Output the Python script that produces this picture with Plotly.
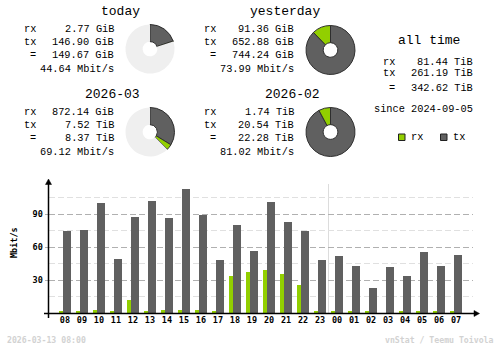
import plotly.graph_objects as go

# ---- traffic data -------------------------------------------------------
hours = ["08", "09", "10", "11", "12", "13", "14", "15", "16", "17", "18", "19",
         "20", "21", "22", "23", "00", "01", "02", "03", "04", "05", "06", "07"]
rx_rate = [1.8, 1.0, 2.7, 1.0, 11.8, 1.8, 2.7, 2.7, 2.7, 1.0, 33.6, 37.3,
           39.0, 35.5, 25.5, 1.0, 1.8, 1.0, 1.0, 0.0, 1.0, 1.0, 1.0, 1.0]
tx_rate = [74.5, 75.5, 100.0, 49.0, 87.3, 101.8, 86.4, 112.7, 89.0, 48.2, 80.0, 56.4,
           101.0, 82.7, 74.5, 48.2, 51.8, 42.7, 22.7, 41.8, 33.6, 55.5, 42.7, 52.7]

# summary blocks: rx, tx (GiB for days, TiB for months)
today_vals = [2.77, 146.90]
yesterday_vals = [91.36, 652.88]
month_cur_vals = [872.14 / 1024, 7.52]
month_prev_vals = [1.74, 20.54]

today_text = ["2.77 GiB", "146.90 GiB", "149.67 GiB", "44.64 Mbit/s"]
yesterday_text = ["91.36 GiB", "652.88 GiB", "744.24 GiB", "73.99 Mbit/s"]
month_cur_text = ["872.14 GiB", "7.52 TiB", "8.37 TiB", "69.12 Mbit/s"]
month_prev_text = ["1.74 TiB", "20.54 TiB", "22.28 TiB", "81.02 Mbit/s"]
alltime_text = ["81.44 TiB", "261.19 TiB", "342.62 TiB"]
since_text = "since 2024-09-05"
stamp_text = "2026-03-13 08:00"
credit_text = "vnStat / Teemu Toivola"

RX = "#92CF00"
TX = "#606060"
EDGE = "#2E2E2E"
PIE_BG = "#EFEFEF"
W, H = 500, 348
MONO = "DejaVu Sans Mono"
BODY = "Liberation Mono"


def px(x):
    return x / W


def py(y):
    return 1 - y / H


fig = go.Figure()

# ---- hourly bars --------------------------------------------------------
idx = list(range(len(hours)))
fig.add_trace(go.Bar(x=idx, y=rx_rate, marker=dict(color=RX, line=dict(width=0)),
                     width=0.29, offset=-0.41, name="rx", showlegend=False))
fig.add_trace(go.Bar(x=idx, y=tx_rate, marker=dict(color=TX, line=dict(width=0)),
                     width=0.47, offset=-0.12, name="tx", showlegend=False))


# ---- donuts -------------------------------------------------------------
def donut(vals, cx, cy, ref_total=None, r=24.5):
    rx, tx = vals
    values = [tx, rx]
    colors = [TX, RX]
    lcol = [EDGE, EDGE]
    lw = [1, 1]
    if ref_total is not None:
        values.append(max(ref_total - (rx + tx), 0))
        colors.append(PIE_BG)
        lcol.append(PIE_BG)
        lw.append(0)
    fig.add_trace(go.Pie(
        values=values, sort=False, direction="clockwise", rotation=0,
        hole=0.3, textinfo="none", hoverinfo="skip", showlegend=False,
        marker=dict(colors=colors, line=dict(color=lcol, width=lw)),
        domain=dict(x=[px(cx - r), px(cx + r)], y=[py(cy + r), py(cy - r)]),
    ))


donut(today_vals, 150, 49, ref_total=sum(yesterday_vals))
donut(yesterday_vals, 330.5, 50)
donut(month_cur_vals, 150, 132, ref_total=sum(month_prev_vals))
donut(month_prev_vals, 330.5, 132)

# ---- text blocks --------------------------------------------------------
ann = []


def text(x, y, s, size=10.3, anchor="left", color="black", bold=False, angle=0,
         family=BODY):
    if bold:
        s = "<b>" + s + "</b>"
    ann.append(dict(x=px(x), y=py(y), xref="paper", yref="paper", text=s,
                    showarrow=False, xanchor=anchor, yanchor="middle",
                    textangle=angle,
                    font=dict(family=family, size=size, color=color)))


def block(title, vals, x0, y0):
    text(x0 + 142, y0 + 12, title, size=13, anchor="right")
    rows = [y0 + 29.5, y0 + 42, y0 + 55]
    for lab, y, v in zip(["rx", "tx", "="], rows, vals[:3]):
        text(x0 + 37.5, y, lab, anchor="right")
        text(x0 + 115.5, y, v, anchor="right")
    text(x0 + 115.5, y0 + 69.5, vals[3], anchor="right")


block("today", today_text, 0, 0)
block("yesterday", yesterday_text, 180, 0)
block("2026-03", month_cur_text, 0, 82.5)
block("2026-02", month_prev_text, 180, 82.5)

text(429, 40.5, "all time", size=13, anchor="center")
for lab, y, v in zip(["rx", "tx", "="], [62.3, 73.3, 88.3], alltime_text):
    text(397, y, lab, anchor="right")
    text(474.5, y, v, anchor="right")
text(474.5, 109, since_text, anchor="right")

# legend
text(408.5, 137, "rx")
text(450.5, 137, "tx")

# axis title and footer
text(14, 243, "Mbit/s", size=8.5, anchor="center", bold=True, angle=-90, family=MONO)
text(5, 340, stamp_text, size=8.2, color="#D2D2D2", bold=True, family=MONO)
text(496, 340, credit_text, size=8.2, anchor="right", color="#D2D2D2", bold=True,
     family=MONO)

shapes = []
# legend squares
for x0, c in [(398.5, RX), (440.5, TX)]:
    shapes.append(dict(type="rect", xref="paper", yref="paper",
                       x0=px(x0), x1=px(x0 + 6.5), y0=py(140.5), y1=py(134),
                       fillcolor=c, line=dict(color="#202020", width=1)))

# day boundary between 23 and 00
shapes.append(dict(type="line", xref="x", yref="paper", x0=15.5, x1=15.5,
                   y0=py(313), y1=py(184), layer="below",
                   line=dict(color="#DCDCDC", width=1)))

# axis lines with arrow heads
shapes.append(dict(type="line", xref="paper", yref="paper",
                   x0=px(44), x1=px(477), y0=py(313.5), y1=py(313.5),
                   line=dict(color="black", width=1.5)))
shapes.append(dict(type="line", xref="paper", yref="paper",
                   x0=px(48.5), x1=px(48.5), y0=py(318), y1=py(182),
                   line=dict(color="black", width=1.5)))
shapes.append(dict(type="path", xref="paper", yref="paper",
                   path=f"M {px(474)} {py(310.5)} L {px(479.5)} {py(313.5)} L {px(474)} {py(316.5)} Z",
                   fillcolor="black", line=dict(color="black", width=0.5)))
shapes.append(dict(type="path", xref="paper", yref="paper",
                   path=f"M {px(45.5)} {py(184.5)} L {px(48.5)} {py(179)} L {px(51.5)} {py(184.5)} Z",
                   fillcolor="black", line=dict(color="black", width=0.5)))

fig.update_layout(
    width=W, height=H,
    margin=dict(l=0, r=0, t=0, b=0, pad=0),
    paper_bgcolor="white", plot_bgcolor="white",
    barmode="overlay", bargap=0,
    annotations=ann, shapes=shapes,
    xaxis=dict(domain=[px(48.5), px(473)], range=[-0.97, 24.0],
               tickvals=idx, ticktext=hours, ticks="", showgrid=False,
               zeroline=False, showline=False,
               tickfont=dict(family=MONO, size=8.5, color="black", weight="bold")),
    yaxis=dict(domain=[py(313), py(181)], range=[0, 120],
               tickvals=[30, 60, 90], ticks="outside", ticklen=3,
               tickcolor="#B0B0B0", showgrid=True, gridcolor="#B0B0B0",
               griddash="6px,3px", zeroline=False, showline=False,
               tickfont=dict(family=MONO, size=8.5, color="black", weight="bold"),
               minor=dict(tickvals=[15, 45, 75, 105], showgrid=True,
                          gridcolor="#E0E0E0", griddash="6px,3px", ticks="")),
)

fig.write_html("out.html")
